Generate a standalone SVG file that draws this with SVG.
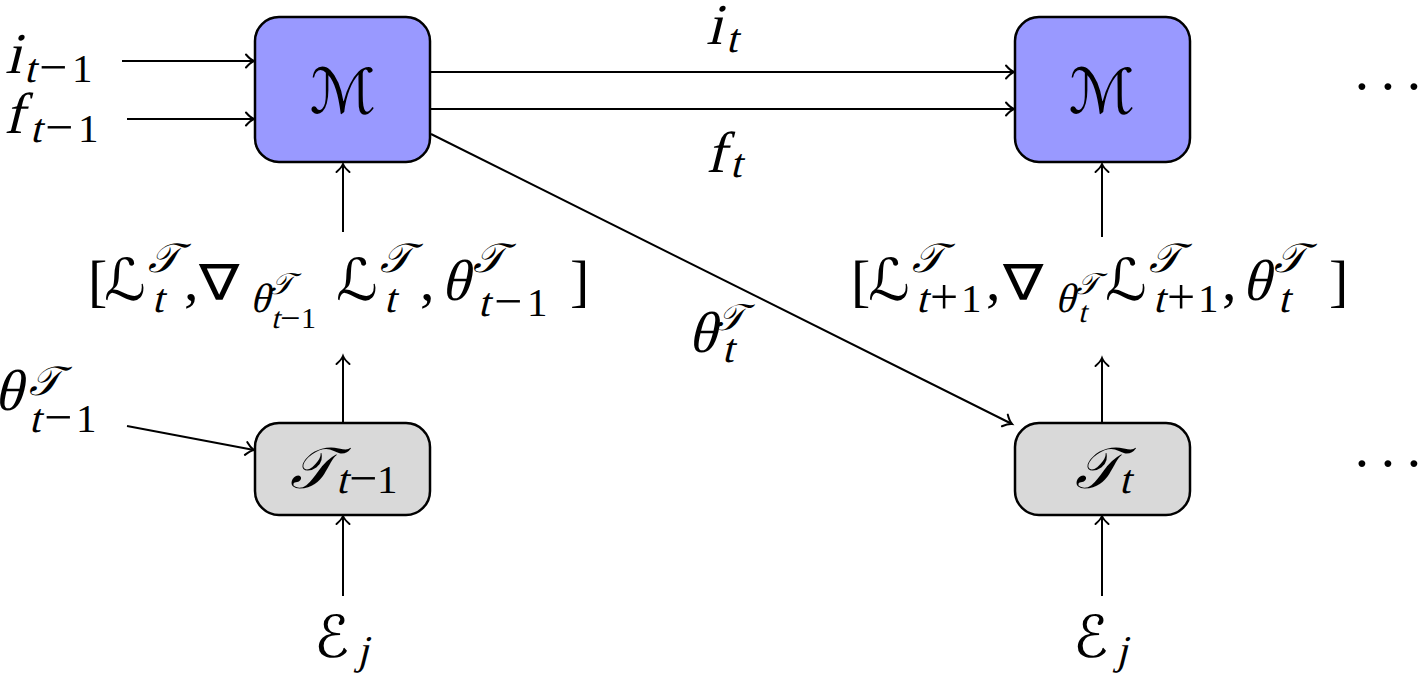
<svg xmlns="http://www.w3.org/2000/svg" width="1424" height="673" viewBox="0 0 1424 673">
<style>
text{fill:#000;}
.r{font-family:'Liberation Serif','DejaVu Serif',serif;font-style:normal;}
.c{font-family:'DejaVu Sans',sans-serif;font-style:italic;}
.n{font-family:'DejaVu Sans',sans-serif;font-style:normal;font-size:54px;}
.a{font-size:58px;}
.b{font-size:41px;}
.d{font-size:30px;}
.box{stroke:#000;stroke-width:2.5;}
.mb{fill:#9999ff;}
.tb{fill:#d9d9d9;}
.cn line{stroke:#000;stroke-width:2;marker-end:url(#ah);}
</style>
<defs>
<marker id="ah" markerUnits="userSpaceOnUse" markerWidth="20" markerHeight="20" viewBox="-10 -10 20 20" refX="0" refY="0" orient="auto">
<path d="M-8,-6.5 C-5,-3 -2,-0.8 0,0 C-2,0.8 -5,3 -8,6.5" fill="none" stroke="#000" stroke-width="2" stroke-linecap="round"/>
</marker>
</defs>
<g id="connectors" class="cn">
<line x1="122" y1="61" x2="254" y2="61"/>
<line x1="127" y1="119" x2="254" y2="119"/>
<line x1="431" y1="72" x2="1014" y2="72"/>
<line x1="431" y1="109" x2="1014" y2="109"/>
<line x1="431" y1="134" x2="1012" y2="424"/>
<line x1="343" y1="232" x2="343" y2="164"/>
<line x1="343" y1="423" x2="343" y2="356"/>
<line x1="1102" y1="237" x2="1102" y2="164"/>
<line x1="1102" y1="423" x2="1102" y2="358"/>
<line x1="127" y1="426" x2="254" y2="450"/>
<line x1="343" y1="596" x2="343" y2="516"/>
<line x1="1102" y1="596" x2="1102" y2="516"/>
</g>
<g id="M1"><rect class="box mb" x="255" y="17" width="175" height="145" rx="24"/><text class="c a" x="343" y="113" text-anchor="middle" style="font-size:62px">ℳ</text></g>
<g id="M2"><rect class="box mb" x="1015" y="17" width="175" height="145" rx="24"/><text class="c a" x="1102" y="113" text-anchor="middle" style="font-size:62px">ℳ</text></g>
<g id="T1"><rect class="box tb" x="255" y="423" width="175" height="92" rx="24"/>
<text class="c a" x="290" y="488">𝒯</text>
<text class="r b" transform="matrix(1 0 -0.25 1 336 493)">t</text>
<text class="r" style="font-size:50px" x="349" y="495">−</text>
<text class="r b" x="377" y="493">1</text></g>
<g id="T2"><rect class="box tb" x="1015" y="423" width="175" height="92" rx="24"/>
<text class="c a" x="1075" y="488">𝒯</text>
<text class="r b" transform="matrix(1 0 -0.25 1 1119 493)">t</text></g>
<g id="label-i-prev">
<text class="r a" transform="matrix(1 0 -0.25 1 5 73)">i</text>
<text class="r b" transform="matrix(1 0 -0.25 1 24 82)">t</text>
<text class="r" style="font-size:50px" x="39" y="84">−</text>
<text class="r b" x="72" y="82">1</text></g>
<g id="label-f-prev">
<text class="r a" transform="matrix(1 0 -0.25 1 4 133)">f</text>
<text class="r b" transform="matrix(1 0 -0.25 1 30 142)">t</text>
<text class="r" style="font-size:50px" x="45" y="144">−</text>
<text class="r b" x="78" y="142">1</text></g>
<g id="label-i-t">
<text class="r a" transform="matrix(1 0 -0.25 1 706 44)">i</text>
<text class="r b" transform="matrix(1 0 -0.25 1 726 52)">t</text></g>
<g id="label-f-t">
<text class="r a" transform="matrix(1 0 -0.25 1 706 172)">f</text>
<text class="r b" transform="matrix(1 0 -0.25 1 730 177)">t</text></g>
<g id="label-theta-t">
<text class="r a" transform="matrix(1 0 -0.25 1 688 352)">θ</text>
<text class="c" style="font-size:37px" x="716" y="330">𝒯</text>
<text class="r b" transform="matrix(1 0 -0.25 1 722 362)">t</text></g>
<g id="label-theta-prev">
<text class="r a" transform="matrix(1 0 -0.25 1 -6 410)">θ</text>
<text class="c b" x="29" y="395">𝒯</text>
<text class="r b" transform="matrix(1 0 -0.25 1 29 432)">t</text>
<text class="r" style="font-size:50px" x="44" y="434">−</text>
<text class="r b" x="76" y="432">1</text></g>
<g id="label-E1">
<text class="c a" x="314" y="657">ℰ</text>
<text class="r b" transform="matrix(1 0 -0.25 1 357 664)">j</text></g>
<g id="label-E2">
<text class="c a" x="1073" y="657">ℰ</text>
<text class="r b" transform="matrix(1 0 -0.25 1 1116 664)">j</text></g>
<g id="label-bracket-left">
<text class="r a" x="88" y="300">[</text>
<text class="c a" x="104" y="300">ℒ</text>
<text class="c b" x="148" y="272">𝒯</text>
<text class="r b" transform="matrix(1 0 -0.25 1 152 312)">t</text>
<text class="r a" x="184" y="300">,</text>
<text class="n" transform="matrix(1.12 0 0 0.92 199 300)">∇</text>
<text class="r b" transform="matrix(1 0 -0.25 1 250 312)">θ</text>
<text class="c d" x="270" y="294">𝒯</text>
<text class="r d" transform="matrix(1 0 -0.25 1 271 328)">t</text>
<text class="r" style="font-size:36px" x="280" y="330">−</text>
<text class="r d" x="301" y="328">1</text>
<text class="c a" x="336" y="300">ℒ</text>
<text class="c b" x="380" y="272">𝒯</text>
<text class="r b" transform="matrix(1 0 -0.25 1 384 312)">t</text>
<text class="r a" x="420" y="300">,</text>
<text class="r a" transform="matrix(1 0 -0.25 1 441 300)">θ</text>
<text class="c b" x="473" y="272">𝒯</text>
<text class="r b" transform="matrix(1 0 -0.25 1 478 316)">t</text>
<text class="r" style="font-size:50px" x="494" y="318">−</text>
<text class="r b" x="527" y="316">1</text>
<text class="r a" x="570" y="300">]</text></g>
<g id="label-bracket-right">
<text class="r a" x="851" y="300">[</text>
<text class="c a" x="868" y="300">ℒ</text>
<text class="c b" x="912" y="272">𝒯</text>
<text class="r b" transform="matrix(1 0 -0.25 1 916 312)">t</text>
<text class="r" style="font-size:50px" x="930" y="314">+</text>
<text class="r b" x="961" y="312">1</text>
<text class="r a" x="986" y="300">,</text>
<text class="n" transform="matrix(1.12 0 0 0.92 1003 300)">∇</text>
<text class="r b" transform="matrix(1 0 -0.25 1 1055 312)">θ</text>
<text class="c d" x="1076" y="294">𝒯</text>
<text class="r d" transform="matrix(1 0 -0.25 1 1078 322)">t</text>
<text class="c a" x="1105" y="300">ℒ</text>
<text class="c b" x="1149" y="272">𝒯</text>
<text class="r b" transform="matrix(1 0 -0.25 1 1153 312)">t</text>
<text class="r" style="font-size:50px" x="1167" y="314">+</text>
<text class="r b" x="1198" y="312">1</text>
<text class="r a" x="1222" y="300">,</text>
<text class="r a" transform="matrix(1 0 -0.25 1 1242 300)">θ</text>
<text class="c b" x="1274" y="272">𝒯</text>
<text class="r b" transform="matrix(1 0 -0.25 1 1278 312)">t</text>
<text class="r a" x="1329" y="300">]</text></g>
<g id="dots-top"><text class="r a" x="1362 1388 1414" y="106" text-anchor="middle">···</text></g>
<g id="dots-bottom"><text class="r a" x="1362 1388 1414" y="483" text-anchor="middle">···</text></g>
</svg>
